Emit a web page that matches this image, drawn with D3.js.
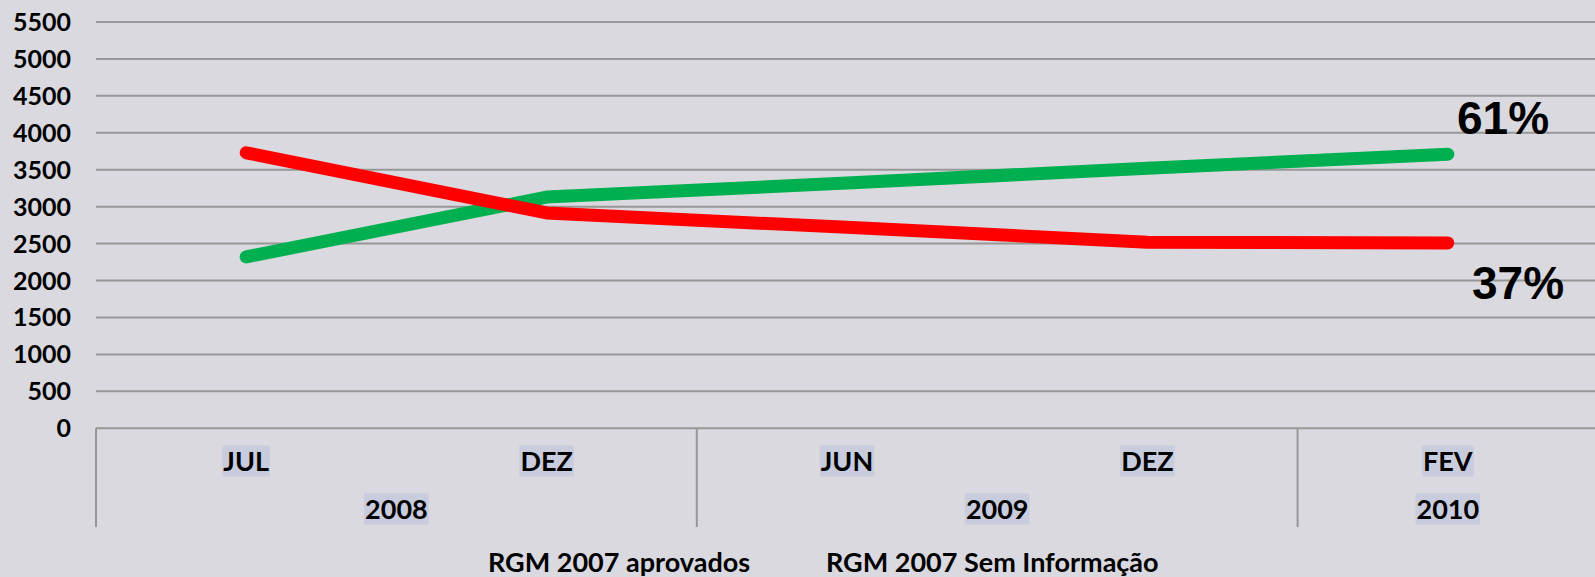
<!DOCTYPE html>
<html>
<head>
<meta charset="utf-8">
<script src="https://cdn.jsdelivr.net/npm/d3@7"></script>
<style>
  html, body { margin: 0; padding: 0; background: #d9d9df; }
  svg { display: block; }
</style>
</head>
<body>
<div id="chart"></div>
<script>
// months along the bottom, grouped by year
var months = ["JUL", "DEZ", "JUN", "DEZ", "FEV"];
var years = [
  { year: "2008", span: 2 },
  { year: "2009", span: 2 },
  { year: "2010", span: 1 }
];
var yTicks = [0, 500, 1000, 1500, 2000, 2500, 3000, 3500, 4000, 4500, 5000, 5500];

// series values
var aprovados = [2320, 3130, 3320, 3520, 3710];
var semInfo = [3730, 2915, 2720, 2520, 2510];
var seriesNames = ["RGM 2007 aprovados", "RGM 2007 Sem Informação"];
var endLabels = ["61%", "37%"];

var width = 1595, height = 577;
var plotLeft = 96, plotRight = 1598, plotTop = 22, plotBottom = 428.3;
var labelFont = "'Gill Sans', 'Gill Sans MT', Lato, sans-serif";

var svg = d3.select("#chart").append("svg")
  .attr("width", width)
  .attr("height", height);

svg.append("rect")
  .attr("width", width).attr("height", height)
  .attr("fill", "#d9d9df");

// band per month index (two months are both "DEZ")
var x = d3.scaleBand().domain(d3.range(months.length)).range([plotLeft, plotRight]).padding(0);
var y = d3.scaleLinear().domain([0, 5500]).range([plotBottom, plotTop]);

// horizontal grid
svg.selectAll(".grid")
  .data(yTicks.slice(1))
  .enter().append("line")
  .attr("x1", plotLeft).attr("x2", width)
  .attr("y1", function(d) { return y(d); })
  .attr("y2", function(d) { return y(d); })
  .attr("stroke", "#979797")
  .attr("stroke-width", 2);

// y axis labels
svg.selectAll(".ylab")
  .data(yTicks)
  .enter().append("text")
  .attr("x", 71)
  .attr("y", function(d) { return y(d); })
  .attr("dy", "0.36em")
  .attr("text-anchor", "end")
  .attr("font-family", labelFont)
  .attr("font-weight", "bold")
  .attr("font-size", 25)
  .attr("fill", "#000")
  .text(function(d) { return d; });

// x axis line and group dividers
svg.append("line")
  .attr("x1", plotLeft).attr("x2", width)
  .attr("y1", plotBottom).attr("y2", plotBottom)
  .attr("stroke", "#979797").attr("stroke-width", 2);

var bounds = [0];
years.forEach(function(g) { bounds.push(bounds[bounds.length - 1] + g.span); });
svg.selectAll(".divider")
  .data(bounds.slice(0, bounds.length - 1))
  .enter().append("line")
  .attr("x1", function(i) { return x(i); })
  .attr("x2", function(i) { return x(i); })
  .attr("y1", plotBottom).attr("y2", 527)
  .attr("stroke", "#979797").attr("stroke-width", 2);

function boxedLabel(cx, cy, txt) {
  var g = svg.append("g");
  var t = g.append("text")
    .attr("x", cx).attr("y", cy)
    .attr("dy", "0.36em")
    .attr("text-anchor", "middle")
    .attr("font-family", labelFont)
    .attr("font-weight", "bold")
    .attr("font-size", 27)
    .attr("fill", "#000")
    .text(txt);
  var bb = t.node().getBBox();
  g.insert("rect", "text")
    .attr("x", bb.x - 1).attr("y", cy - 15.5)
    .attr("width", bb.width + 2).attr("height", 31)
    .attr("fill", "#c9ccdc");
}

months.forEach(function(m, i) {
  boxedLabel(x(i) + x.bandwidth() / 2, 461, m);
});
years.forEach(function(g, i) {
  var x0 = x(bounds[i]);
  var x1 = x0 + g.span * x.bandwidth();
  boxedLabel((x0 + x1) / 2, 509, g.year);
});

// lines
var line = d3.line()
  .x(function(d, i) { return x(i) + x.bandwidth() / 2; })
  .y(function(d) { return y(d); });

svg.append("path")
  .datum(aprovados)
  .attr("d", line)
  .attr("fill", "none")
  .attr("stroke", "#00b050")
  .attr("stroke-width", 13)
  .attr("stroke-linecap", "round")
  .attr("stroke-linejoin", "round");

svg.append("path")
  .datum(semInfo)
  .attr("d", line)
  .attr("fill", "none")
  .attr("stroke", "#ff0000")
  .attr("stroke-width", 13)
  .attr("stroke-linecap", "round")
  .attr("stroke-linejoin", "round");

// end percentages
svg.append("text")
  .attr("x", 1457).attr("y", 134)
  .attr("font-family", "'Liberation Sans', Arial, sans-serif")
  .attr("font-weight", "bold")
  .attr("font-size", 46)
  .text(endLabels[0]);
svg.append("text")
  .attr("x", 1472).attr("y", 299)
  .attr("font-family", "'Liberation Sans', Arial, sans-serif")
  .attr("font-weight", "bold")
  .attr("font-size", 46)
  .text(endLabels[1]);

// legend, text only
var legendX = [488, 826];
svg.selectAll(".leg")
  .data(seriesNames)
  .enter().append("text")
  .attr("x", function(d, i) { return legendX[i]; })
  .attr("y", 562)
  .attr("dy", "0.36em")
  .attr("font-family", labelFont)
  .attr("font-weight", "bold")
  .attr("font-size", 27)
  .attr("fill", "#000")
  .text(function(d) { return d; });
</script>
</body>
</html>
